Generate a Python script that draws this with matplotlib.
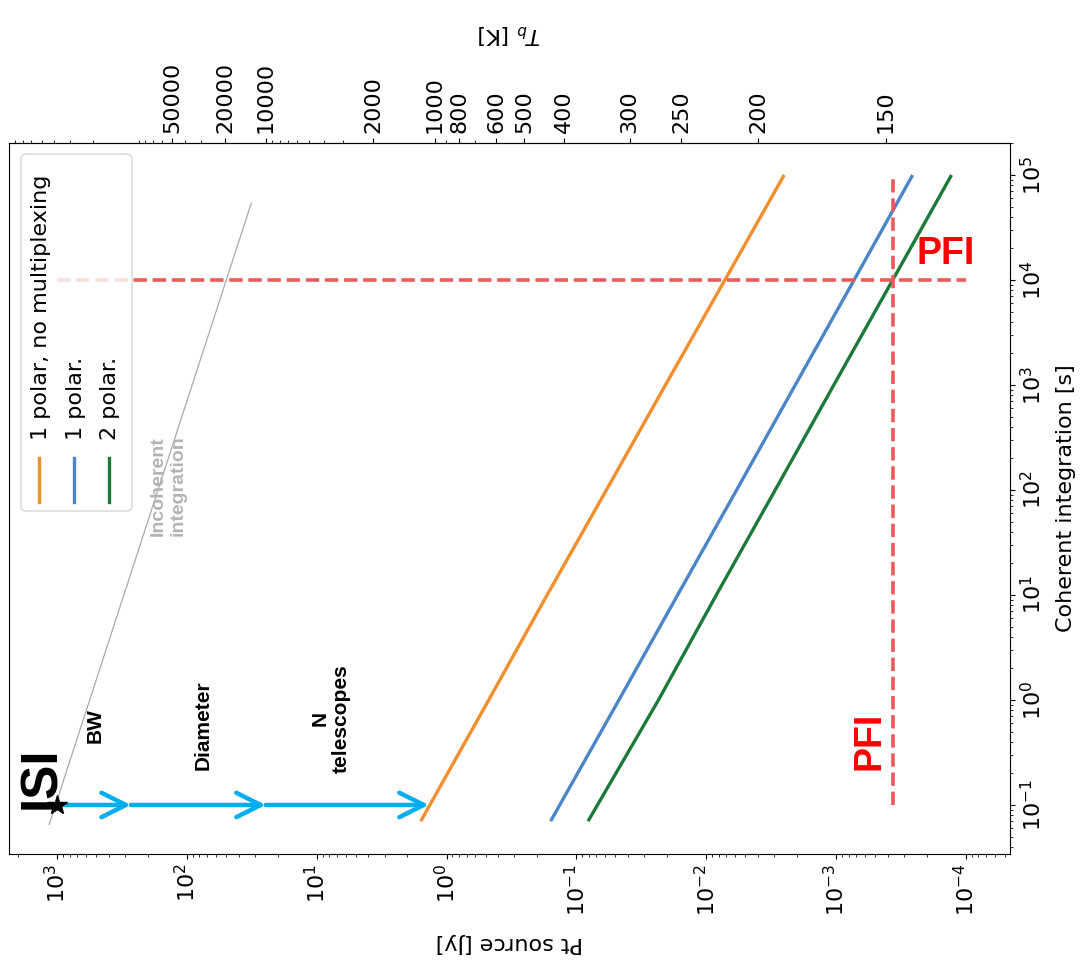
import numpy as np
import matplotlib
matplotlib.use('Agg')
import matplotlib.pyplot as plt
from matplotlib.patches import FancyBboxPatch
from matplotlib.lines import Line2D
from matplotlib.ticker import FixedLocator, FixedFormatter, NullFormatter, LogLocator

plt.rcParams['font.family'] = ['DejaVu Sans']
plt.rcParams['font.size'] = 16

# ---------------- data ----------------
t_coh = [0.07, 1, 10, 100, 1e3, 1e4, 1e5]                      # coherent integration [s]
flux_1pol_nomux = [1.58, 0.473, 0.168, 0.0587, 0.0206, 0.00718, 0.00251]
flux_1pol = [0.158, 0.0470, 0.0166, 0.00583, 0.00206, 7.26e-4, 2.57e-4]
flux_2pol = [0.0813, 0.0233, 0.00836, 0.00294, 0.00104, 3.66e-4, 1.29e-4]
series_labels = ['1 polar, no multiplexing', '1 polar.', '2 polar.']
series_colors = ['#f28e2b', '#4a86c8', '#1b7a3a']

incoh_t = [0.065, 5.4e4]
incoh_flux = [1150, 31.9]

isi_flux = 1000
isi_t = 0.1
arrow_flux = [1000, 270, 24.7, 1.37]
arrow_labels = ['BW', 'Diameter', 'N\ntelescopes']
arrow_label_flux = [506, 75.4, 7.8]
arrow_label_t = [0.57, 0.57, 0.66]

pfi_flux = 3.65e-4
pfi_t = 1e4
pfi_t_range = [0.1, 1e5]
pfi_flux_range = [1e3, 1e-4]

tb_ticks = [50000, 20000, 10000, 2000, 1000, 800, 600, 500, 400, 300, 250, 200, 150]
TB_A = 1360.0   # h nu / k  [K]
TB_C = 3.58     # flux scale [Jy]

# ---------------- figure ----------------
W, H = 1081, 973
fig = plt.figure(figsize=(W / 100, H / 100), dpi=100)
L, R, T, B = 9, 1010, 143, 854
ax = fig.add_axes([L / W, 1 - B / H, (R - L) / W, (B - T) / H])
ax.set_xscale('log')
ax.set_yscale('log')
ax.set_xlim(10 ** 3.37, 10 ** -4.34)
ax.set_ylim(10 ** -1.467, 10 ** 5.305)


def px2ax(px, py):
    return (px - L) / (R - L), (B - py) / (B - T)


# series
for fl, c in zip([flux_1pol_nomux, flux_1pol, flux_2pol], series_colors):
    ax.plot(fl, t_coh, color=c, lw=2.4, zorder=3, solid_capstyle='butt')

# incoherent line
ax.plot(incoh_flux, incoh_t, color='#aaaaaa', lw=0.9, zorder=2)
ax.text(140, 110, 'Incoherent\nintegration', rotation=90, ha='center', va='center',
        color='#b4b4b4', fontsize=14, fontweight='bold', family='Liberation Sans',
        multialignment='left', zorder=2)

# PFI lines
red = '#eb5a5a'
ax.plot([pfi_flux, pfi_flux], pfi_t_range, ls='--', color=red, lw=2.6, zorder=4)
ax.plot(pfi_flux_range, [pfi_t, pfi_t], ls='--', color=red, lw=2.6, zorder=4)
ax.text(5.57e-4, 0.407, 'PFI', rotation=90, ha='center', va='center', color='#ff0000',
        fontsize=27, fontweight='bold', family='Liberation Sans', zorder=6)
ax.text(1.43e-4, 1.77e4, 'PFI', rotation=0, ha='center', va='center', color='#ff0000',
        fontsize=27, fontweight='bold', family='Liberation Sans', zorder=6)

# ISI star and arrows
for f0, f1 in zip(arrow_flux[:-1], arrow_flux[1:]):
    ax.annotate('', xy=(f1, isi_t), xytext=(f0, isi_t),
                arrowprops=dict(arrowstyle='->', color='#00aeef', lw=3.2,
                                mutation_scale=44, shrinkA=0, shrinkB=0),
                zorder=5)
ax.plot([isi_flux], [isi_t], marker='*', color='black', ms=15, zorder=6, ls='none')
ax.text(1303, 0.181, 'ISI', rotation=90, ha='center', va='center', fontsize=37,
        fontweight='bold', family='Liberation Sans', zorder=7)
for lab, fx, ty in zip(arrow_labels, arrow_label_flux, arrow_label_t):
    ax.text(fx, ty, lab, rotation=90, ha='center', va='center', fontsize=15,
            fontweight='bold', family='Liberation Sans', multialignment='center', zorder=6)

# axes ticks and labels
ax.xaxis.set_major_locator(LogLocator(base=10, numticks=30))
ax.xaxis.set_minor_locator(LogLocator(base=10, subs='auto', numticks=30))
ax.yaxis.set_major_locator(LogLocator(base=10, numticks=30))
ax.yaxis.set_minor_locator(LogLocator(base=10, subs='auto', numticks=30))
ax.xaxis.set_minor_formatter(NullFormatter())
ax.yaxis.set_minor_formatter(NullFormatter())
ax.yaxis.tick_right()
ax.yaxis.set_label_position('right')
ax.tick_params(axis='x', which='both', top=False, bottom=True, labelrotation=90, labelsize=16)
ax.tick_params(axis='y', which='both', left=False, right=True, labelrotation=90, labelsize=16)
for lbl in ax.yaxis.get_majorticklabels():
    lbl.set_verticalalignment('center')
ax.set_xlabel('Pt source [Jy]', rotation=180, fontsize=16, labelpad=12)
ax.set_ylabel('Coherent integration [s]', fontsize=16, labelpad=8)


def flux_to_tb(F):
    F = np.asarray(F, dtype=float)
    with np.errstate(all='ignore'):
        return TB_A / np.log1p(TB_C / np.clip(F, 1e-300, None))


def tb_to_flux(Tb):
    Tb = np.asarray(Tb, dtype=float)
    with np.errstate(all='ignore'):
        return TB_C / np.expm1(TB_A / np.clip(Tb, 5.0, None))


secax = ax.secondary_xaxis('top', functions=(flux_to_tb, tb_to_flux))
secax.xaxis.set_major_locator(FixedLocator(tb_ticks))
secax.xaxis.set_major_formatter(FixedFormatter([str(v) for v in tb_ticks]))
secax.xaxis.set_minor_formatter(NullFormatter())
secax.tick_params(axis='x', labelrotation=90, labelsize=16)
secax.set_xlabel(r'$T_b$ [K]', rotation=180, fontsize=16, labelpad=16)

# manual (rotated) legend
bx0, by0 = px2ax(21, 511)
bx1, by1 = px2ax(132, 154)
box = FancyBboxPatch((bx0, by0), bx1 - bx0, by1 - by0,
                     boxstyle='round,pad=0,rounding_size=0.006',
                     transform=ax.transAxes, facecolor='white', edgecolor='#cccccc',
                     lw=1, alpha=0.8, zorder=8)
ax.add_patch(box)
text_x = [41.5, 76.5, 110]
handle_x = [39, 74, 109]
for lab, c, tx, hx in zip(series_labels, series_colors, text_x, handle_x):
    x0, y0 = px2ax(hx, 458)
    _, y1 = px2ax(hx, 502)
    ax.add_line(Line2D([x0, x0], [y0, y1], color=c, lw=2.4, transform=ax.transAxes, zorder=9))
    txa, tya = px2ax(tx, 440)
    ax.text(txa, tya, lab, rotation=90, ha='center', va='bottom', fontsize=16,
            transform=ax.transAxes, zorder=9)

fig.savefig('out.png', dpi=100)
